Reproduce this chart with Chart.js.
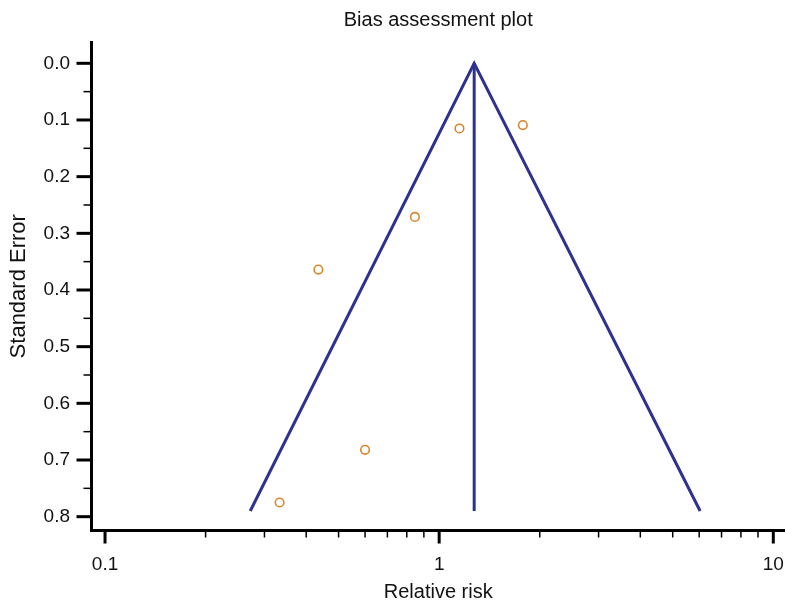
<!DOCTYPE html>
<html lang="en">
<head>
<meta charset="UTF-8" />
<title>Bias assessment plot</title>
<script src="https://cdn.jsdelivr.net/npm/chart.js"></script>
<style>
body { margin: 0; background: white; }
</style>
</head>
<body>
<canvas id="myChart" width="785" height="605"></canvas>
<script>
// studies (relative risk vs standard error)
const studyRR = [1.15, 1.78, 0.846, 0.435, 0.600, 0.333];
const studySE = [0.115, 0.109, 0.271, 0.364, 0.682, 0.775];
// pseudo 95% limits and pooled estimate
const funnelRR = [0.272, 1.273, 6.04];
const funnelSE = [0.79, 0, 0.79];
const pooledRR = [1.273, 1.273];
const pooledSE = [0, 0.79];
// ticks
const xTicks = [0.1, 1, 10];
const xMinorTicks = [0.2, 0.3, 0.4, 0.5, 0.6, 0.7, 0.8, 0.9, 2, 3, 4, 5, 6, 7, 8, 9];
const yTicks = [0, 0.1, 0.2, 0.3, 0.4, 0.5, 0.6, 0.7, 0.8];
const yMinorTicks = [0.05, 0.15, 0.25, 0.35, 0.45, 0.55, 0.65, 0.75];

const toPoints = (xs, ys) => xs.map((v, i) => ({ x: v, y: ys[i] }));
const FONT = "'Liberation Sans', Arial, sans-serif";
const BLUE = "#2f3190";
const ORANGE = "#d8872f";

// short tick marks drawn outside the plot, like the original
const tickMarks = {
  id: "tickMarks",
  afterDraw(chart) {
    const ctx = chart.ctx;
    const sx = chart.scales.x;
    const sy = chart.scales.y;
    ctx.save();
    ctx.strokeStyle = "#000";
    function mark(x1, y1, x2, y2, w) {
      ctx.lineWidth = w;
      ctx.beginPath();
      ctx.moveTo(x1, y1);
      ctx.lineTo(x2, y2);
      ctx.stroke();
    }
    yTicks.forEach((v) => {
      const p = sy.getPixelForValue(v);
      mark(sy.right - 15, p, sy.right, p, 3);
    });
    yMinorTicks.forEach((v) => {
      const p = sy.getPixelForValue(v);
      mark(sy.right - 8, p, sy.right, p, 1.5);
    });
    xTicks.forEach((v) => {
      const p = sx.getPixelForValue(v);
      mark(p, sx.top, p, sx.top + 13, 3);
    });
    xMinorTicks.forEach((v) => {
      const p = sx.getPixelForValue(v);
      mark(p, sx.top, p, sx.top + 7, 1.5);
    });
    ctx.restore();
  }
};

const config = {
  type: "scatter",
  data: {
    datasets: [
      {
        label: "Studies",
        data: toPoints(studyRR, studySE),
        borderColor: ORANGE,
        backgroundColor: "rgba(0,0,0,0)",
        borderWidth: 1.6,
        pointRadius: 4.3,
        pointStyle: "circle"
      },
      {
        label: "Limits",
        data: toPoints(funnelRR, funnelSE),
        showLine: true,
        borderColor: BLUE,
        borderWidth: 3,
        pointRadius: 0
      },
      {
        label: "Pooled",
        data: toPoints(pooledRR, pooledSE),
        showLine: true,
        borderColor: BLUE,
        borderWidth: 3,
        pointRadius: 0
      }
    ]
  },
  options: {
    responsive: false,
    animation: false,
    layout: { padding: 0, autoPadding: false },
    plugins: {
      legend: { display: false },
      tooltip: { enabled: false },
      title: {
        display: true,
        text: "Bias assessment plot",
        fullSize: false,
        color: "#111",
        font: { family: FONT, size: 20, weight: "normal" },
        padding: { top: 8, bottom: 10 }
      }
    },
    scales: {
      x: {
        type: "logarithmic",
        min: 0.0911,
        max: 10.84,
        grid: { display: false, drawTicks: false },
        border: { display: true, color: "#000", width: 3 },
        afterBuildTicks: (s) => { s.ticks = xTicks.map((v) => ({ value: v })); },
        afterFit: (s) => { s.height = 74.5; s.paddingLeft = 0; s.paddingRight = 0; },
        ticks: {
          autoSkip: false,
          maxRotation: 0,
          padding: 23,
          color: "#111",
          font: { family: FONT, size: 19 },
          callback: (v) => String(v)
        },
        title: {
          display: true,
          text: "Relative risk",
          color: "#111",
          font: { family: FONT, size: 20 },
          padding: { top: 0, bottom: 1 }
        }
      },
      y: {
        type: "linear",
        reverse: true,
        min: -0.0376,
        max: 0.8244,
        grid: { display: false, drawTicks: false },
        border: { display: true, color: "#000", width: 3 },
        afterBuildTicks: (s) => { s.ticks = yTicks.map((v) => ({ value: v })); },
        afterFit: (s) => { s.width = 91.5; s.paddingTop = 0; s.paddingBottom = 0; },
        ticks: {
          padding: 21.5,
          color: "#111",
          font: { family: FONT, size: 19 },
          callback: (v) => Number(v).toFixed(1)
        },
        title: {
          display: true,
          text: "Standard Error",
          color: "#111",
          font: { family: FONT, size: 22 },
          padding: { top: 6, bottom: 0 }
        }
      }
    }
  },
  plugins: [tickMarks]
};

new Chart(document.getElementById("myChart"), config);
</script>
</body>
</html>
